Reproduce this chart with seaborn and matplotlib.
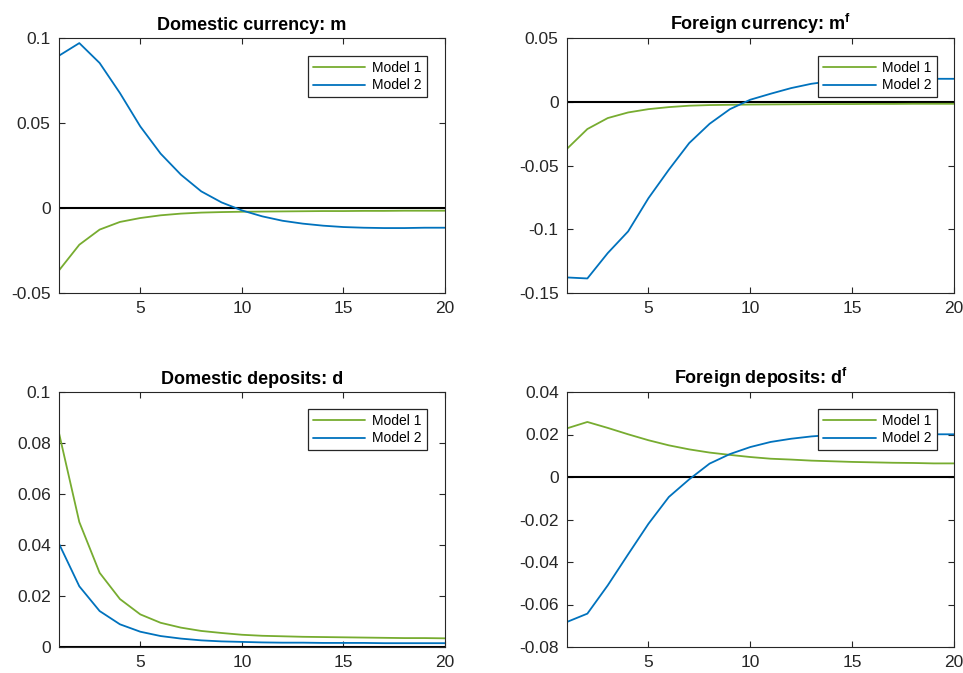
import numpy as np
import pandas as pd
import matplotlib
matplotlib.use("Agg")
import matplotlib.pyplot as plt
import seaborn as sns

# Impulse responses over 20 periods for two models
periods = list(range(1, 21))

m_model1 = [-0.0367, -0.0216, -0.0127, -0.0082, -0.0059, -0.0043, -0.0033, -0.0027, -0.0024, -0.0022,
            -0.0021, -0.0020, -0.0019, -0.0018, -0.0018, -0.0017, -0.0017, -0.0016, -0.0016, -0.0016]
m_model2 = [0.0896, 0.0970, 0.0853, 0.0676, 0.0480, 0.0320, 0.0196, 0.0098, 0.0033, -0.0014,
            -0.0049, -0.0075, -0.0092, -0.0104, -0.0112, -0.0116, -0.0118, -0.0118, -0.0116, -0.0116]

mf_model1 = [-0.0369, -0.0214, -0.0128, -0.0084, -0.0058, -0.0042, -0.0031, -0.0026, -0.0024, -0.0022,
             -0.0021, -0.0020, -0.0019, -0.0018, -0.0018, -0.0017, -0.0017, -0.0016, -0.0016, -0.0016]
mf_model2 = [-0.1378, -0.1386, -0.1187, -0.1017, -0.0756, -0.0533, -0.0324, -0.0173, -0.0058, 0.0016,
             0.0063, 0.0107, 0.0141, 0.0162, 0.0173, 0.0178, 0.0180, 0.0180, 0.0180, 0.0180]

d_model1 = [0.0839, 0.0490, 0.0291, 0.0188, 0.0128, 0.0095, 0.0076, 0.0063, 0.0055, 0.0048,
            0.0044, 0.0042, 0.0040, 0.0039, 0.0038, 0.0037, 0.0036, 0.0035, 0.0035, 0.0034]
d_model2 = [0.0405, 0.0238, 0.0141, 0.0089, 0.0060, 0.0043, 0.0033, 0.0026, 0.0022, 0.0020,
            0.0018, 0.0017, 0.0017, 0.0016, 0.0016, 0.0016, 0.0015, 0.0015, 0.0015, 0.0015]

df_model1 = [0.0229, 0.0259, 0.0231, 0.0201, 0.0173, 0.0149, 0.0130, 0.0115, 0.0104, 0.0094,
             0.0086, 0.0082, 0.0077, 0.0074, 0.0071, 0.0069, 0.0067, 0.0066, 0.0064, 0.0064]
df_model2 = [-0.0682, -0.0643, -0.0510, -0.0364, -0.0220, -0.0094, -0.0011, 0.0063, 0.0108, 0.0141,
             0.0165, 0.0180, 0.0191, 0.0198, 0.0201, 0.0202, 0.0202, 0.0202, 0.0201, 0.0201]

series_labels = ["Model 1", "Model 2"]
titles = ["Domestic currency: m",
          r"Foreign currency: m$^{\mathregular{f}}$",
          "Domestic deposits: d",
          r"Foreign deposits: d$^{\mathregular{f}}$"]
y_limits = [(-0.05, 0.1), (-0.15, 0.05), (0.0, 0.1), (-0.08, 0.04)]
y_ticks = [[-0.05, 0, 0.05, 0.1],
           [-0.15, -0.1, -0.05, 0, 0.05],
           [0, 0.02, 0.04, 0.06, 0.08, 0.1],
           [-0.08, -0.06, -0.04, -0.02, 0, 0.02, 0.04]]
y_ticklabels = [["-0.05", "0", "0.05", "0.1"],
                ["-0.15", "-0.1", "-0.05", "0", "0.05"],
                ["0", "0.02", "0.04", "0.06", "0.08", "0.1"],
                ["-0.08", "-0.06", "-0.04", "-0.02", "0", "0.02", "0.04"]]
x_ticks = [5, 10, 15, 20]

panels = [(m_model1, m_model2), (mf_model1, mf_model2),
          (d_model1, d_model2), (df_model1, df_model2)]

sns.set_style("ticks")
plt.rcParams["font.family"] = ["Liberation Sans", "DejaVu Sans"]
plt.rcParams["mathtext.fontset"] = "custom"
plt.rcParams["mathtext.rm"] = "Liberation Sans"

palette = {"Model 1": "#77AC30", "Model 2": "#0072BD"}
axis_color = "#262626"

fig = plt.figure(figsize=(9.63, 6.73), dpi=100)
positions = [
    [59 / 963, 1 - 293 / 673, 386 / 963, 255 / 673],
    [567 / 963, 1 - 293 / 673, 387 / 963, 255 / 673],
    [59 / 963, 1 - 647 / 673, 386 / 963, 255 / 673],
    [567 / 963, 1 - 647 / 673, 387 / 963, 255 / 673],
]
legend_anchor = [(0.953, 0.929), (0.956, 0.929), (0.953, 0.933), (0.956, 0.933)]

for i, (s1, s2) in enumerate(panels):
    ax = fig.add_axes(positions[i])
    data = pd.DataFrame({
        "period": periods * 2,
        "value": list(s1) + list(s2),
        "model": [series_labels[0]] * len(periods) + [series_labels[1]] * len(periods),
    })
    ax.axhline(0, color="black", lw=1.5, zorder=1)
    sns.lineplot(data=data, x="period", y="value", hue="model", palette=palette,
                 lw=1.3, ax=ax, zorder=2)
    ax.set_xlim(1, 20)
    ax.set_ylim(*y_limits[i])
    ax.set_xticks(x_ticks)
    ax.set_xticklabels([str(t) for t in x_ticks])
    ax.set_yticks(y_ticks[i])
    ax.set_yticklabels(y_ticklabels[i])
    ax.set_xlabel("")
    ax.set_ylabel("")
    ax.set_title(titles[i], fontsize=13, fontweight="bold", pad=6, color="black")
    ax.tick_params(direction="in", length=4, width=0.8, top=True, right=True,
                   labelsize=12.5, colors=axis_color, pad=6)
    for sp in ax.spines.values():
        sp.set_visible(True)
        sp.set_color(axis_color)
        sp.set_linewidth(0.8)
    leg = ax.legend(loc="upper right", bbox_to_anchor=legend_anchor[i], borderaxespad=0,
                    fontsize=10, frameon=True, fancybox=False, handlelength=3.8,
                    labelspacing=0.25, borderpad=0.35, handletextpad=0.5)
    leg.get_frame().set_edgecolor(axis_color)
    leg.get_frame().set_linewidth(0.9)
    leg.get_frame().set_alpha(1)
    for txt in leg.get_texts():
        txt.set_color("black")

fig.savefig("out.png", dpi=100)
